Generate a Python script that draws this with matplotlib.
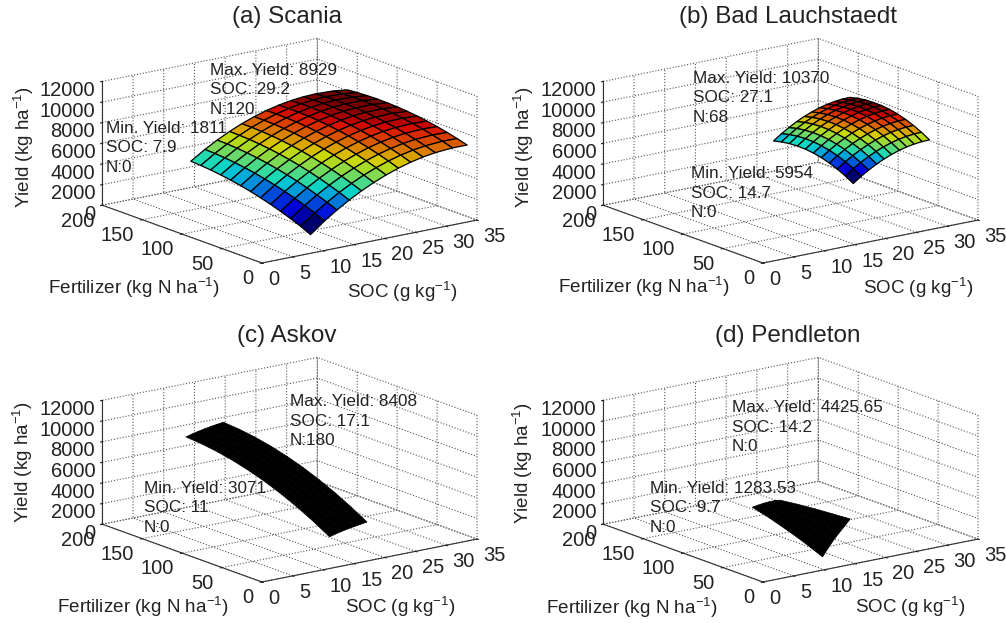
import numpy as np
import matplotlib
matplotlib.use('Agg')
import matplotlib.pyplot as plt
from matplotlib.transforms import ScaledTranslation
from mpl_toolkits.mplot3d import proj3d

plt.rcParams['font.family'] = ['Liberation Sans', 'DejaVu Sans']
plt.rcParams['mathtext.default'] = 'regular'
plt.rcParams['grid.linestyle'] = ':'
plt.rcParams['grid.color'] = '#555555'
plt.rcParams['grid.linewidth'] = 0.8

W, H = 1006, 623

# Scania
soc_a = [7.9, 10.2, 12.2, 14.2, 16.2, 18.2, 20.2, 22.2, 24.2, 26.2, 28.2, 31, 33.4]
n_a = [0, 12.5, 25, 37.5, 50, 62.5, 75, 87.5, 100, 112.5, 125, 137.5, 150]
yield_a = [
    [1811, 2272, 2660, 3017, 3338, 3626, 3882, 4105, 4294, 4450, 4573, 4664, 4721],
    [2875, 3282, 3658, 4001, 4309, 4585, 4827, 5038, 5214, 5356, 5467, 5545, 5589],
    [3682, 4078, 4442, 4774, 5071, 5336, 5567, 5766, 5931, 6062, 6161, 6228, 6261],
    [4410, 4795, 5148, 5468, 5754, 6007, 6227, 6415, 6569, 6689, 6777, 6833, 6854],
    [5062, 5436, 5777, 6087, 6361, 6603, 6812, 6988, 7131, 7240, 7316, 7361, 7371],
    [5635, 5998, 6328, 6626, 6889, 7120, 7317, 7482, 7614, 7712, 7777, 7810, 7809],
    [6131, 6482, 6801, 7088, 7340, 7560, 7746, 7900, 8020, 8106, 8160, 8182, 8170],
    [6550, 6890, 7198, 7473, 7714, 7923, 8097, 8240, 8349, 8424, 8467, 8477, 8454],
    [6890, 7219, 7515, 7779, 8009, 8206, 8370, 8501, 8599, 8663, 8694, 8694, 8659],
    [7154, 7472, 7757, 8010, 8228, 8414, 8566, 8686, 8773, 8826, 8846, 8834, 8788],
    [7339, 7646, 7919, 8161, 8368, 8543, 8684, 8792, 8868, 8910, 8929, 8895, 8838],
    [7469, 7760, 8018, 8244, 8436, 8595, 8719, 8812, 8872, 8898, 8891, 8852, 8779],
    [7459, 7736, 7981, 8193, 8371, 8517, 8628, 8707, 8754, 8766, 8746, 8693, 8606],
]

# Bad Lauchstaedt
soc_b = [14.7, 16, 17.2, 18.5, 19.7, 20.9, 22.2, 23.4, 24.6, 25.9, 27.1]
n_b = [0, 10, 20, 30, 40, 50, 60, 70, 80, 90, 100]
yield_b = [
    [5954, 6408, 6791, 7102, 7341, 7509, 7605, 7630, 7583, 7464, 7274],
    [6507, 6961, 7344, 7655, 7894, 8062, 8158, 8183, 8136, 8017, 7827],
    [6958, 7412, 7795, 8106, 8345, 8513, 8609, 8634, 8587, 8468, 8278],
    [7388, 7842, 8225, 8536, 8775, 8943, 9039, 9064, 9017, 8898, 8708],
    [7732, 8186, 8569, 8880, 9119, 9287, 9383, 9408, 9361, 9242, 9052],
    [8024, 8478, 8861, 9172, 9411, 9579, 9675, 9700, 9653, 9534, 9344],
    [8282, 8736, 9119, 9430, 9669, 9837, 9933, 9958, 9911, 9792, 9602],
    [8467, 8921, 9304, 9615, 9854, 10022, 10118, 10143, 10096, 9977, 9787],
    [8600, 9054, 9437, 9748, 9987, 10155, 10251, 10276, 10229, 10110, 9920],
    [8686, 9140, 9523, 9834, 10073, 10241, 10337, 10362, 10315, 10196, 10006],
    [8712, 9166, 9549, 9860, 10099, 10267, 10363, 10370, 10341, 10222, 10032],
]

# Askov
soc_c = [11, 12, 13, 14, 15, 16, 17.1]
n_c = [0, 20, 40, 60, 80, 100, 120, 140, 160, 180]
yield_c = [
    [3071, 3980, 4790, 5500, 6120, 6630, 7050, 7370, 7590, 7710],
    [3230, 4140, 4950, 5660, 6280, 6790, 7210, 7530, 7750, 7870],
    [3370, 4280, 5090, 5800, 6420, 6930, 7350, 7670, 7890, 8010],
    [3490, 4400, 5210, 5920, 6540, 7050, 7470, 7790, 8010, 8130],
    [3590, 4500, 5310, 6020, 6640, 7150, 7570, 7890, 8110, 8230],
    [3680, 4590, 5400, 6110, 6730, 7240, 7660, 7980, 8200, 8320],
    [3775, 4680, 5490, 6200, 6820, 7330, 7750, 8070, 8290, 8408],
]

# Pendleton
soc_d = [9.7, 10.6, 11.5, 12.4, 13.3, 14.2]
n_d = [0, 22, 44, 66, 88]
yield_d = [
    [1283.53, 2000, 2620, 3170, 3630],
    [2020, 2560, 3010, 3390, 3720],
    [2700, 3080, 3370, 3610, 3790],
    [3290, 3520, 3680, 3780, 3830],
    [3840, 3960, 3960, 3920, 3840],
    [4425.65, 4300, 4170, 4000, 3780],
]

titles = ['(a) Scania', '(b) Bad Lauchstaedt', '(c) Askov', '(d) Pendleton']
max_notes = ['Max. Yield: 8929\nSOC: 29.2\nN:120', 'Max. Yield: 10370\nSOC: 27.1\nN:68',
             'Max. Yield: 8408\nSOC: 17.1\nN:180', 'Max. Yield: 4425.65\nSOC: 14.2\nN:0']
min_notes = ['Min. Yield: 1811\nSOC: 7.9\nN:0', 'Min. Yield: 5954\nSOC: 14.7\nN:0',
             'Min. Yield: 3071\nSOC: 11\nN:0', 'Min. Yield: 1283.53\nSOC: 9.7\nN:0']
soc_ticks = [0, 5, 10, 15, 20, 25, 30, 35]
n_ticks = [0, 50, 100, 150, 200]
yield_ticks = [0, 2000, 4000, 6000, 8000, 10000, 12000]

# pixel layout for each panel
origins = [(262, 263), (763, 263), (262, 582), (763, 582)]
title_pos = [(287, 17), (788, 17), (287, 336), (788, 336)]
max_pos = [(210, 90), (693, 98), (290, 421), (732, 427)]
min_pos = [(106, 148), (691, 193), (144, 508), (650, 508)]
ylab_pos = [(24, 147), (524, 147), (23, 462), (523, 463)]
fert_pos = [(134, 288), (644, 287), (143, 607), (632, 608)]
soc_pos = [(402, 292), (918, 288), (400, 607), (910, 607)]

ASPECT = (1, 1, 0.48)


def project(ax, x, y, z):
    px, py, _ = proj3d.proj_transform(x, y, z, ax.get_proj())
    return ax.transData.transform((px, py))


def place(ax, origin):
    # fit the box so the SOC axis starts and ends on the wanted pixels
    ax.apply_aspect()
    p0 = project(ax, 0, 0, 0)
    p1 = project(ax, 35, 0, 0)
    ax.set_box_aspect(ASPECT, zoom=215 / (p1[0] - p0[0]))
    p0 = project(ax, 0, 0, 0)
    pos = ax.get_position(original=True)
    ax.set_position([pos.x0 + (origin[0] - p0[0]) / W,
                     pos.y0 + (H - origin[1] - p0[1]) / H, pos.width, pos.height])
    ax.apply_aspect()


def fig_text(x, y, s, **kw):
    fig.text(x / W, 1 - y / H, s, **kw)


fig = plt.figure(figsize=(W / 100, H / 100), dpi=100)
surfaces = [(soc_a, n_a, yield_a), (soc_b, n_b, yield_b), (soc_c, n_c, yield_c), (soc_d, n_d, yield_d)]

for i, (soc, n, yld) in enumerate(surfaces):
    ax = fig.add_axes([0.05 + 0.5 * (i % 2), 0.5 - 0.5 * (i // 2), 0.42, 0.45], projection='3d',
                      proj_type='ortho')
    ax.patch.set_alpha(0)
    ax.view_init(elev=15.6, azim=-126.6)
    ax.set_xlim(0, 35)
    ax.set_ylim(0, 200)
    ax.set_zlim(0, 12000)
    ax.set_box_aspect(ASPECT)
    ax.set_xticks(soc_ticks)
    ax.set_yticks(n_ticks)
    ax.set_zticks(yield_ticks)
    ax.tick_params(labelsize=14.5, colors='#222222')
    ax.tick_params(axis='x', pad=-4)
    ax.tick_params(axis='y', pad=-4)
    ax.tick_params(axis='z', pad=-6)
    for axis in (ax.xaxis, ax.yaxis, ax.zaxis):
        axis.set_pane_color((1, 1, 1, 0))
        axis.pane.set_edgecolor('none')
        axis.line.set_color('#333333')
        axis._axinfo['tick']['inward_factor'] = 0.1
        axis._axinfo['tick']['outward_factor'] = 0.0
    ax.zaxis.set_ticks_position('upper')
    for t in ax.xaxis.get_ticklabels():
        t.set_ha('left')
    for t in ax.yaxis.get_ticklabels():
        t.set_ha('right')
    # z labels sit level with their ticks, 6 px above where mplot3d puts them
    lift = ScaledTranslation(0, 0.06, fig.dpi_scale_trans)
    for t in ax.zaxis.get_ticklabels():
        t.set_ha('right')
        t.set_transform(ax.transData + lift)

    S, N = np.meshgrid(soc, n, indexing='ij')
    Z = np.array(yld, dtype=float)
    if i < 2:
        # dense mesh of the original reads darker than the pure colormap
        colors = plt.cm.jet((Z - Z.min()) / (Z.max() - Z.min()))
        colors[..., :3] *= 0.85
        surf = ax.plot_surface(S, N, Z, facecolors=colors, rstride=1, cstride=1, shade=False,
                               edgecolor='black', linewidth=0.9)
    else:
        surf = ax.plot_surface(S, N, Z, color='black', rstride=1, cstride=1, shade=False,
                               edgecolor='black', linewidth=0.5)
    surf.set_clip_on(False)
    place(ax, origins[i])

    fig_text(*title_pos[i], titles[i], fontsize=17.5, ha='center', va='center', color='#222222')
    fig_text(*max_pos[i], max_notes[i], fontsize=12.3, ha='left', va='center', linespacing=1.4, color='#222222')
    fig_text(*min_pos[i], min_notes[i], fontsize=12.3, ha='left', va='center', linespacing=1.4, color='#222222')
    fig_text(*ylab_pos[i], 'Yield (kg ha$^{-1}$)', fontsize=13.5, rotation=90, ha='center', va='center', color='#222222')
    fig_text(*fert_pos[i], 'Fertilizer (kg N ha$^{-1}$)', fontsize=13.6, ha='center', va='center', color='#222222')
    fig_text(*soc_pos[i], 'SOC (g kg$^{-1}$)', fontsize=13.5, ha='center', va='center', color='#222222')

fig.savefig('out.png', dpi=100)
